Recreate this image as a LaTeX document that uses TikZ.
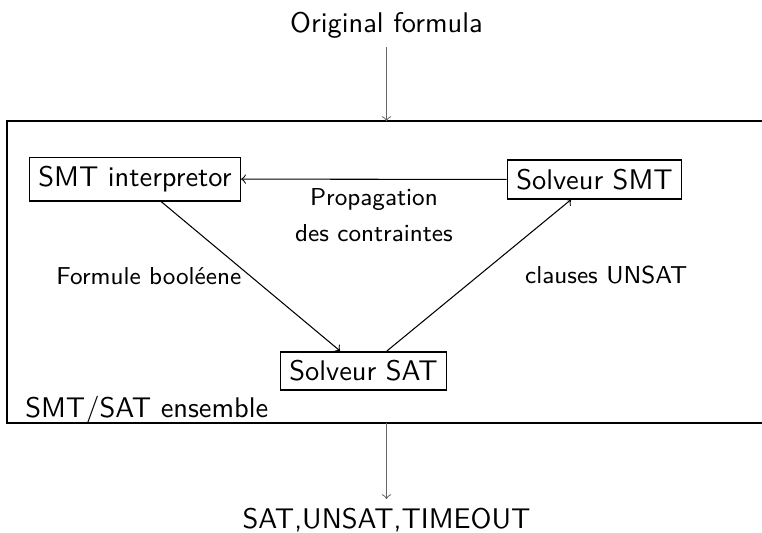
\documentclass[tikz,border=0pt]{standalone}
\usetikzlibrary{arrows}

\begin{document}
\begin{tikzpicture}%
            [x = 0.38pt, y = -0.38pt,
             font = \sffamily\fontsize{10.8}{13}\selectfont,
             solver/.style = {draw, semithick},
             flow/.style = {->, black!60},
             edgelabel/.style = {font = \sffamily\fontsize{9.3}{13.7}\selectfont, align = center}]
            \useasboundingbox (0,0) rectangle (762,532);
            \clip (0,0) rectangle (762,532);

            % the ensemble frame
            \coordinate (frameNW) at (7,121);
            \coordinate (frameSE) at (790,423);
            \coordinate (frameIn) at (386.5,121);
            \coordinate (frameOut) at (386.5,423);
            \draw [thick] (frameNW) rectangle (frameSE);
            \node [anchor = base west] (frameName) at (16,417) {SMT/SAT ensemble};

            \node (input) at (386.5,25) {Original formula};
            \node [anchor = north] (output) at (386.5,499) {SAT,UNSAT,TIMEOUT};

            \node [solver] (interp) at (135,179) {SMT interpretor};
            \node [solver] (smt) at (594.5,179.5) {Solveur SMT};
            \node [solver] (sat) at (363.5,371) {Solveur SAT};

            \draw [flow] (input) -- (frameIn);
            \draw [flow] (frameOut) -- (output);

            \draw [->] (smt) -- (interp) node [midway, below, edgelabel] {Propagation\\des contraintes};
            \draw [->] ([xshift = 9.9pt]interp.south) -- ([xshift = -8.9pt]sat.north)
                  node [midway, left, edgelabel] {Formule booléene};
            \draw [->] ([xshift = 8.9pt]sat.north) -- ([xshift = -8.9pt]smt.south)
                  node [midway, right = 14pt, edgelabel] {clauses UNSAT};
        \end{tikzpicture}
\end{document}
